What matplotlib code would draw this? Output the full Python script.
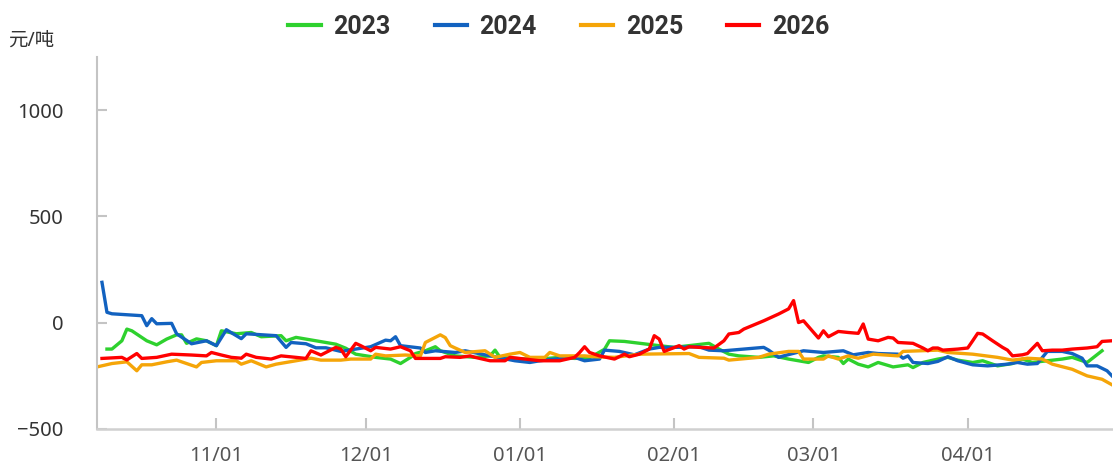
import pandas as pd
import matplotlib
matplotlib.use("Agg")
import matplotlib.pyplot as plt
import matplotlib.dates as mdates

plt.rcParams['font.family'] = ['Noto Sans', 'Noto Sans CJK SC', 'DejaVu Sans']

# season dates (MM-DD) and spread values (元/吨)
dates_2023 = ["10-10", "10-11", "10-13", "10-14", "10-15", "10-18", "10-20", "10-22", "10-24", "10-25",
              "10-26", "10-28", "10-30", "11-01", "11-02", "11-05", "11-08", "11-10", "11-14", "11-15",
              "11-17", "11-21", "11-25", "11-27", "11-29", "12-03", "12-06", "12-08", "12-10", "12-11",
              "12-13", "12-15", "12-16", "12-19", "12-23", "12-26", "12-27", "12-28", "01-02", "01-05",
              "01-09", "01-12", "01-15", "01-18", "01-19", "01-22", "01-29", "02-01", "02-08", "02-10",
              "02-12", "02-14", "02-18", "02-21", "02-24", "02-28", "03-02", "03-03", "03-06", "03-07",
              "03-08", "03-10", "03-12", "03-14", "03-17", "03-20", "03-21", "03-23", "03-26", "03-28",
              "03-30", "04-02", "04-04", "04-07", "04-10", "04-12", "04-14", "04-17", "04-20", "04-22",
              "04-25", "04-28"]
vals_2023 = [-124, -124, -85, -30, -38, -85, -104, -77, -57, -57,
             -97, -76, -85, -108, -38, -52, -46, -66, -61, -85,
             -69, -85, -101, -120, -148, -163, -171, -192, -163, -145,
             -132, -113, -132, -156, -163, -156, -129, -163, -171, -171,
             -163, -168, -165, -125, -85, -88, -108, -116, -97, -124,
             -148, -156, -163, -156, -171, -187, -163, -156, -163, -192,
             -171, -195, -208, -187, -208, -198, -211, -187, -171, -163,
             -176, -187, -179, -203, -192, -171, -187, -179, -171, -163,
             -187, -132]

dates_2024 = ["10-09", "10-10", "10-11", "10-17", "10-18", "10-19", "10-20", "10-23", "10-24", "10-27",
              "10-30", "11-01", "11-03", "11-06", "11-07", "11-13", "11-15", "11-16", "11-19", "11-21",
              "11-23", "11-26", "11-29", "12-02", "12-05", "12-06", "12-07", "12-08", "12-12", "12-13",
              "12-15", "12-19", "12-21", "12-26", "12-31", "01-03", "01-05", "01-08", "01-12", "01-14",
              "01-17", "01-18", "01-21", "01-24", "01-27", "01-29", "02-01", "02-06", "02-08", "02-11",
              "02-19", "02-20", "02-22", "02-23", "02-27", "03-03", "03-07", "03-09", "03-12", "03-14",
              "03-18", "03-19", "03-20", "03-21", "03-24", "03-26", "03-28", "03-30", "04-02", "04-05",
              "04-09", "04-11", "04-13", "04-15", "04-17", "04-20", "04-22", "04-24", "04-25", "04-27",
              "04-29", "04-30"]
vals_2024 = [190, 49, 42, 33, -14, 19, -5, -3, -52, -99,
             -85, -108, -33, -75, -52, -61, -116, -93, -99, -118,
             -118, -135, -124, -113, -82, -85, -66, -108, -119, -140,
             -132, -140, -132, -156, -179, -187, -179, -171, -163, -179,
             -171, -129, -135, -151, -124, -116, -116, -113, -129, -132,
             -116, -129, -163, -156, -132, -140, -132, -151, -140, -145,
             -148, -167, -156, -187, -192, -182, -160, -179, -198, -203,
             -195, -187, -195, -192, -135, -135, -145, -167, -203, -203,
             -226, -250]

dates_2025 = ["10-08", "10-11", "10-14", "10-16", "10-17", "10-19", "10-22", "10-24", "10-28", "10-29",
              "11-01", "11-05", "11-06", "11-08", "11-11", "11-13", "11-17", "11-20", "11-22", "11-26",
              "11-28", "12-02", "12-03", "12-05", "12-09", "12-12", "12-13", "12-16", "12-17", "12-18",
              "12-19", "12-21", "12-25", "12-27", "12-30", "01-01", "01-03", "01-06", "01-07", "01-09",
              "01-14", "01-16", "01-20", "01-25", "02-04", "02-06", "02-11", "02-12", "02-18", "02-20",
              "02-24", "02-26", "02-27", "03-03", "03-04", "03-06", "03-08", "03-10", "03-13", "03-18",
              "03-19", "03-26", "03-28", "04-02", "04-07", "04-10", "04-13", "04-16", "04-18", "04-22",
              "04-25", "04-28", "04-30"]
vals_2025 = [-208, -192, -184, -226, -198, -198, -184, -176, -208, -187,
             -179, -179, -195, -179, -208, -195, -179, -167, -176, -176,
             -171, -171, -148, -156, -152, -156, -93, -57, -70, -108,
             -119, -140, -132, -163, -148, -140, -163, -163, -140, -156,
             -156, -160, -163, -148, -145, -163, -167, -176, -163, -148,
             -135, -135, -171, -171, -156, -171, -156, -167, -148, -156,
             -135, -129, -140, -148, -163, -176, -167, -171, -195, -219,
             -250, -266, -292]

dates_2026 = ["10-09", "10-13", "10-14", "10-16", "10-17", "10-20", "10-23", "10-27", "10-30", "10-31",
              "11-02", "11-04", "11-06", "11-07", "11-09", "11-12", "11-14", "11-17", "11-19", "11-20",
              "11-22", "11-25", "11-26", "11-27", "11-29", "11-30", "12-02", "12-03", "12-06", "12-08",
              "12-10", "12-11", "12-16", "12-17", "12-20", "12-22", "12-23", "12-26", "12-29", "12-30",
              "01-02", "01-05", "01-09", "01-12", "01-13", "01-14", "01-15", "01-17", "01-20", "01-22",
              "01-23", "01-25", "01-27", "01-28", "01-29", "01-30", "02-02", "02-03", "02-04", "02-06",
              "02-09", "02-11", "02-12", "02-14", "02-15", "02-19", "02-22", "02-24", "02-25", "02-26",
              "02-27", "03-02", "03-03", "03-04", "03-06", "03-08", "03-10", "03-11", "03-12", "03-14",
              "03-16", "03-17", "03-18", "03-21", "03-23", "03-24", "03-25", "03-26", "03-27", "03-30",
              "04-01", "04-02", "04-03", "04-04", "04-06", "04-08", "04-09", "04-10", "04-12", "04-13",
              "04-15", "04-16", "04-18", "04-20", "04-22", "04-25", "04-27", "04-28", "04-30"]
vals_2026 = [-168, -163, -175, -145, -168, -163, -148, -152, -156, -140,
             -152, -163, -167, -148, -163, -171, -156, -163, -168, -132,
             -152, -116, -124, -160, -97, -108, -132, -116, -124, -113,
             -132, -168, -168, -160, -163, -156, -163, -179, -179, -163,
             -171, -179, -179, -163, -140, -113, -140, -156, -171, -148,
             -160, -148, -124, -61, -77, -135, -108, -124, -113, -116,
             -119, -85, -53, -46, -30, 9, 41, 65, 104, 1,
             9, -72, -38, -66, -41, -46, -50, -6, -77, -85,
             -69, -72, -93, -97, -119, -132, -119, -119, -129, -124,
             -119, -85, -50, -53, -85, -116, -129, -156, -151, -145,
             -97, -132, -129, -129, -124, -119, -113, -88, -85]

years = ["2023", "2024", "2025", "2026"]
colors = ["#2ED12E", "#1262C0", "#F5A508", "#FF0000"]
series = [(dates_2023, vals_2023), (dates_2024, vals_2024),
          (dates_2025, vals_2025), (dates_2026, vals_2026)]


def to_dates(md):
    # put every season on one common Oct-Apr axis
    return pd.to_datetime([("2025-" if int(s[:2]) >= 10 else "2026-") + s for s in md])


fig = plt.figure(figsize=(11.13, 4.74), dpi=100)
ax = fig.add_axes([97 / 1113, 1 - 429 / 474, (1112 - 97) / 1113, (429 - 57) / 474])

for year, color, (d, v) in zip(years, colors, series):
    ax.plot(to_dates(d), v, color=color, lw=2.4, label=year, solid_joinstyle='round')

ax.set_xlim(pd.Timestamp("2025-10-08"), pd.Timestamp("2026-04-30"))
ax.set_ylim(-500, 1250)
ax.set_yticks([-500, 0, 500, 1000])
ax.set_yticklabels(["\u2212500", "0", "500", "1000"])
ax.xaxis.set_major_locator(mdates.MonthLocator(bymonth=[11, 12, 1, 2, 3, 4]))
ax.xaxis.set_major_formatter(mdates.DateFormatter("%m/%d"))

for s in ["top", "right"]:
    ax.spines[s].set_visible(False)
ax.spines["left"].set_color("#c4c4c4")
ax.spines["left"].set_linewidth(1.5)
ax.spines["bottom"].set_color("#d0d0d0")
ax.spines["bottom"].set_linewidth(1.8)

ax.tick_params(axis='y', direction='in', length=7, width=1.5, color='#c4c4c4',
               labelsize=14.5, labelcolor='#333333', pad=24)
ax.tick_params(axis='x', direction='in', length=8, width=1.5, color='#c4c4c4',
               labelsize=14.5, labelcolor='#555555', pad=12)

leg = fig.legend(loc='center', bbox_to_anchor=(0.502, 0.943), ncol=4, frameon=False,
                 handlelength=1.3, handletextpad=0.5, columnspacing=1.75,
                 prop={'family': ['Roboto', 'DejaVu Sans'], 'size': 18, 'weight': 'bold'})
for t in leg.get_texts():
    t.set_color('#333333')
for h in leg.get_lines():
    h.set_linewidth(3)

fig.text(8 / 1113, 1 - 41 / 474, "元/吨", fontsize=14, color='#333333', va='center', ha='left')

fig.savefig("out.png", dpi=100)
